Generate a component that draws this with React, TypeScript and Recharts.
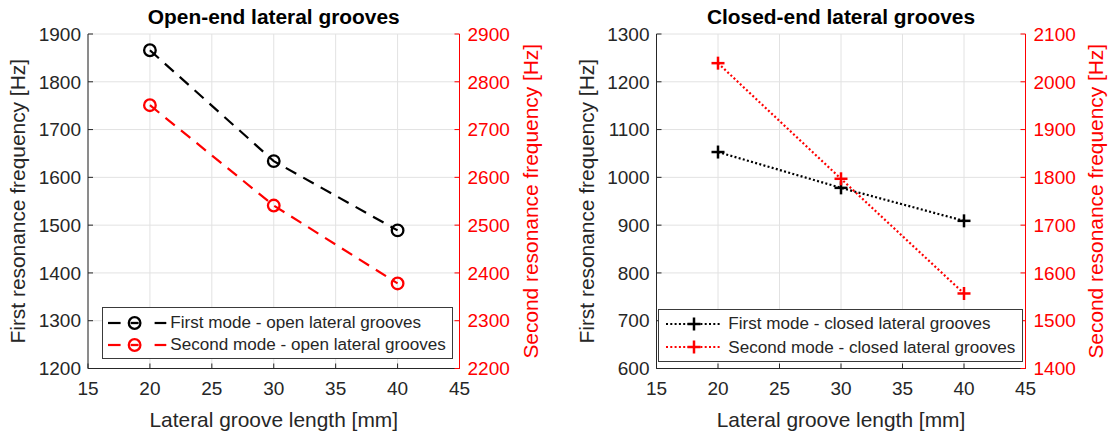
import { LineChart, Line, XAxis, YAxis, CartesianGrid } from "recharts";

const grooveLength = [20, 30, 40];
const xTicks = [15, 20, 25, 30, 35, 40, 45];

const openFirst = [1866, 1634, 1489];
const openSecond = [2751, 2541, 2378];
const openFirstTicks = [1200, 1300, 1400, 1500, 1600, 1700, 1800, 1900];
const openSecondTicks = [2200, 2300, 2400, 2500, 2600, 2700, 2800, 2900];

const closedFirst = [1053, 978, 909];
const closedSecond = [2039, 1797, 1557];
const closedFirstTicks = [600, 700, 800, 900, 1000, 1100, 1200, 1300];
const closedSecondTicks = [1400, 1500, 1600, 1700, 1800, 1900, 2000, 2100];

const FONT = "'Liberation Sans', Arial, Helvetica, sans-serif";
const TEXT = "#262626";
const RED = "#ff0000";
const TICK_FS = 19;
const LABEL_FS = 20.9;

type Variant = "open" | "closed";

function Marker({ cx, cy, color, variant, bar }: { cx: number; cy: number; color: string; variant: Variant; bar?: boolean }) {
  if (cx == null || cy == null) return <g />;
  if (variant === "open") {
    return (
      <g>
        <circle cx={cx} cy={cy} r={5.8} fill="none" stroke={color} strokeWidth={2.3} />
        {bar && <line x1={cx - 4} y1={cy} x2={cx + 4} y2={cy} stroke={color} strokeWidth={2.3} />}
      </g>
    );
  }
  return (
    <g stroke={color} strokeWidth={2.5}>
      <line x1={cx - 6.5} y1={cy} x2={cx + 6.5} y2={cy} />
      <line x1={cx} y1={cy - 6.5} x2={cx} y2={cy + 6.5} />
    </g>
  );
}

function LegendSample({ color, variant }: { color: string; variant: Variant }) {
  if (variant === "open") {
    return (
      <svg width={60} height={20} style={{ position: "absolute", left: 5, top: 1.5 }}>
        <line x1={0} y1={10} x2={12.6} y2={10} stroke={color} strokeWidth={2.2} />
        <Marker cx={26.6} cy={10} color={color} variant="open" bar />
        <line x1={46.6} y1={10} x2={58.3} y2={10} stroke={color} strokeWidth={2.2} />
      </svg>
    );
  }
  return (
    <svg width={60} height={20} style={{ position: "absolute", left: 6.7, top: 1.5 }}>
      <line x1={0} y1={10} x2={54.3} y2={10} stroke={color} strokeWidth={2.2} strokeDasharray="2 2.3" />
      <Marker cx={28} cy={10} color={color} variant="closed" />
    </svg>
  );
}

interface PanelProps {
  title: string;
  variant: Variant;
  first: number[];
  second: number[];
  firstTicks: number[];
  secondTicks: number[];
  width: number;
  leftW: number;
  rightW: number;
  leftDx: number;
  rightDx: number;
  legend: string[];
  legendBox: { left: number; top: number; width: number; height: number; row1: number; row2: number; textLeft: number };
}

function Panel(p: PanelProps) {
  const data = grooveLength.map((x, i) => ({ x, first: p.first[i], second: p.second[i] }));
  const dash = p.variant === "open" ? "12 8" : "2 2.3";
  const plotCenter = p.leftW + (p.width - p.leftW - p.rightW) / 2;
  const lb = p.legendBox;
  const rows = [
    { color: "#000", label: p.legend[0], center: lb.row1 },
    { color: RED, label: p.legend[1], center: lb.row2 },
  ];
  return (
    <div style={{ position: "relative", width: p.width, height: 433, fontFamily: FONT }}>
      <div
        style={{
          position: "absolute",
          top: 4,
          left: plotCenter - 200,
          width: 400,
          textAlign: "center",
          fontWeight: "bold",
          fontSize: LABEL_FS,
          lineHeight: "25px",
          color: "#000",
        }}
      >
        {p.title}
      </div>
      <LineChart width={p.width} height={433} data={data} margin={{ top: 34, right: 0, bottom: 0, left: 0 }}>
        <CartesianGrid yAxisId="left" stroke="#e2e2e2" strokeWidth={1} />
        <XAxis
          dataKey="x"
          type="number"
          domain={[15, 45]}
          ticks={xTicks}
          height={64.5}
          stroke="#262626"
          tickSize={-5}
          tickMargin={18}
          tick={{ fill: TEXT, fontSize: TICK_FS, fontFamily: FONT }}
          label={{ value: "Lateral groove length [mm]", position: "center", dy: 19, fill: TEXT, fontSize: LABEL_FS, fontFamily: FONT }}
        />
        <XAxis
          xAxisId="top"
          dataKey="x"
          type="number"
          orientation="top"
          domain={[15, 45]}
          ticks={xTicks}
          height={0}
          stroke="#262626"
          tickSize={-5}
          tick={() => <g />}
        />
        <YAxis
          yAxisId="left"
          domain={[p.firstTicks[0], p.firstTicks[p.firstTicks.length - 1]]}
          ticks={p.firstTicks}
          width={p.leftW}
          stroke="#262626"
          tickSize={-5}
          tickMargin={12}
          tick={{ fill: TEXT, fontSize: TICK_FS, fontFamily: FONT }}
          label={{ value: "First resonance frequency [Hz]", angle: -90, position: "center", dx: p.leftDx, fill: TEXT, fontSize: LABEL_FS, fontFamily: FONT }}
        />
        <YAxis
          yAxisId="right"
          orientation="right"
          domain={[p.secondTicks[0], p.secondTicks[p.secondTicks.length - 1]]}
          ticks={p.secondTicks}
          width={p.rightW}
          stroke={RED}
          tickSize={-5}
          tickMargin={13}
          tick={{ fill: RED, fontSize: TICK_FS, fontFamily: FONT }}
          label={{ value: "Second resonance frequency [Hz]", angle: -90, position: "center", dx: p.rightDx, fill: RED, fontSize: LABEL_FS, fontFamily: FONT }}
        />
        <Line
          yAxisId="left"
          dataKey="first"
          stroke="#000"
          strokeWidth={2.2}
          strokeDasharray={dash}
          isAnimationActive={false}
          dot={(props: any) => <Marker key={`f-${props.index}`} cx={props.cx} cy={props.cy} color="#000" variant={p.variant} />}
          activeDot={false}
        />
        <Line
          yAxisId="right"
          dataKey="second"
          stroke={RED}
          strokeWidth={2.2}
          strokeDasharray={dash}
          isAnimationActive={false}
          dot={(props: any) => <Marker key={`s-${props.index}`} cx={props.cx} cy={props.cy} color={RED} variant={p.variant} />}
          activeDot={false}
        />
      </LineChart>
      <div
        style={{
          position: "absolute",
          left: lb.left,
          top: lb.top,
          width: lb.width,
          height: lb.height,
          boxSizing: "border-box",
          border: "1px solid #3a3a3a",
          background: "#fff",
          fontSize: 17.1,
          color: TEXT,
        }}
      >
        {rows.map((r) => (
          <div key={r.label} style={{ position: "absolute", left: 0, top: r.center - lb.top - 12.5, height: 23, width: "100%" }}>
            <LegendSample color={r.color} variant={p.variant} />
            <span style={{ position: "absolute", left: lb.textLeft, top: 0, lineHeight: "23px", whiteSpace: "nowrap" }}>{r.label}</span>
          </div>
        ))}
      </div>
    </div>
  );
}

export default function App() {
  return (
    <div style={{ position: "absolute", left: 0, top: 0, width: 1116, height: 433, display: "flex", background: "#fff" }}>
      <Panel
        title="Open-end lateral grooves"
        variant="open"
        first={openFirst}
        second={openSecond}
        firstTicks={openFirstTicks}
        secondTicks={openSecondTicks}
        width={556}
        leftW={88}
        rightW={96.5}
        leftDx={-26}
        rightDx={23}
        legend={["First mode - open lateral grooves", "Second mode - open lateral grooves"]}
        legendBox={{ left: 101.7, top: 307.3, width: 351, height: 52, row1: 322.7, row2: 345, textLeft: 67.6 }}
      />
      <Panel
        title="Closed-end lateral grooves"
        variant="closed"
        first={closedFirst}
        second={closedSecond}
        firstTicks={closedFirstTicks}
        secondTicks={closedSecondTicks}
        width={560}
        leftW={100.5}
        rightW={90.5}
        leftDx={-19.5}
        rightDx={25}
        legend={["First mode - closed lateral grooves", "Second mode - closed lateral grooves"]}
        legendBox={{ left: 102.3, top: 309.3, width: 364.4, height: 52.4, row1: 324, row2: 347.3, textLeft: 69 }}
      />
    </div>
  );
}
